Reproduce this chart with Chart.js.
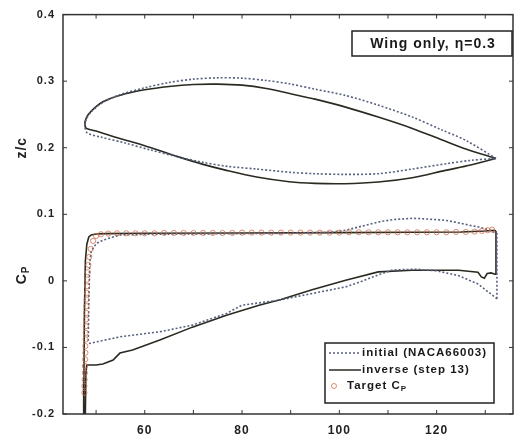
<!DOCTYPE html>
<html>
<head>
<meta charset="utf-8">
<script src="https://cdn.jsdelivr.net/npm/chart.js@4.4.0/dist/chart.umd.min.js"></script>
<style>
  body { margin: 0; background: #fff; }
  #wrap { width: 518px; height: 438px; }
</style>
</head>
<body>
<div id="wrap"><canvas id="myChart" width="518" height="438"></canvas></div>
<script>
// airfoil section shape, z/c (closed: TE -> upper -> LE -> lower -> TE)
var foilInitX = [132.2, 126, 121, 115, 108, 101.3, 95, 89.7, 85, 80, 75, 70, 65, 60, 55, 51.4, 49, 48, 47.7,
                 48.2, 51, 56, 61, 67, 72, 77, 83, 90, 95, 101, 108, 115, 122, 127, 132.2];
var foilInitY = [0.184, 0.211, 0.227, 0.246, 0.264, 0.2785, 0.288, 0.296, 0.301, 0.3045, 0.305, 0.303, 0.298, 0.290, 0.280, 0.268, 0.254, 0.243, 0.232,
                 0.222, 0.216, 0.207, 0.197, 0.186, 0.178, 0.172, 0.168, 0.163, 0.161, 0.160, 0.161, 0.168, 0.176, 0.181, 0.184];

var foilInvX = [132.2, 126, 121, 115, 108, 101.3, 95, 90, 85, 80, 75, 70, 65, 60, 55, 51.4, 49, 48, 47.7,
                48, 50, 53, 56.3, 60, 66.6, 72, 76.8, 83, 89.7, 95, 101, 108, 115, 121.8, 127, 132.2];
var foilInvY = [0.184, 0.198, 0.212, 0.229, 0.246, 0.261, 0.273, 0.281, 0.289, 0.294, 0.2955, 0.295, 0.292, 0.287, 0.279, 0.269, 0.255, 0.245, 0.236,
                0.229, 0.225, 0.218, 0.211, 0.203, 0.187, 0.175, 0.166, 0.156, 0.149, 0.1465, 0.146, 0.1485, 0.155, 0.166, 0.174, 0.184];

// pressure coefficient, Cp
var cpInitX = [132.4, 132.4, 131.5, 130.6, 128.6, 127.1, 124, 121.8, 118, 115, 111, 108, 104, 101.3, 98, 90, 80, 70, 60, 55, 53.5, 51.4, 50.1, 49, 48.7, 48.5, 48.4,
               48.7, 50.5, 55, 63.1, 69.8, 76.8, 80, 87.6, 94.4, 101.3, 104.5, 108, 111, 116, 120, 124.5, 128.6, 132.4];
var cpInitY = [-0.027, 0.071, 0.074, 0.077, 0.081, 0.083, 0.088, 0.091, 0.093, 0.094, 0.092, 0.0885, 0.081, 0.076, 0.073, 0.0715, 0.071, 0.0705, 0.070, 0.069, 0.066, 0.061, 0.0565, 0.045, 0.027, -0.03, -0.09,
               -0.094, -0.091, -0.084, -0.0765, -0.0665, -0.049, -0.0365, -0.029, -0.019, -0.009, -0.001, 0.009, 0.0165, 0.0175, 0.015, 0.008, -0.005, -0.027];

var cpInvX = [132.2, 131.8, 130, 125, 115, 100, 80, 60, 52, 50, 49, 48.5, 48.1, 47.8, 47.6, 47.5, 47.45,
              47.7, 47.9, 48.07, 50, 51.4, 53.5, 54.9, 57.5, 63.1, 69.8, 76.8, 83.5, 88, 94.4, 101.3, 108, 114.9, 124.5, 128.5, 129.2, 129.8, 130.4, 131.2, 132, 132.2];
var cpInvY = [0.075, 0.076, 0.075, 0.0735, 0.073, 0.0725, 0.072, 0.0715, 0.071, 0.0705, 0.069, 0.066, 0.055, 0.03, -0.05, -0.15, -0.25,
              -0.25, -0.14, -0.1265, -0.1265, -0.125, -0.119, -0.1085, -0.104, -0.089, -0.0695, -0.0515, -0.0365, -0.028, -0.0135, 0.001, 0.0135, 0.016, 0.016, 0.013, 0.006, 0.004, 0.011, 0.012, 0.010, 0.075];

var targetX = [47.6, 47.6, 47.65, 47.7, 47.7, 47.75, 47.8, 47.8, 47.85, 47.9, 47.9, 47.95, 48.0, 48.0, 48.05, 48.1, 48.15, 48.2, 48.3, 48.4, 48.6, 48.9, 49.4,
               50.0, 51.0, 52.5, 54.3, 56.2, 58.1, 60.0, 62.0, 64.0, 66.0, 68.0, 70.0, 72.0, 74.0, 76.0, 78.0, 80.0, 82.0, 84.0, 86.0, 88.0, 90.0,
               92.0, 94.0, 96.0, 98.0, 100.0, 102.0, 104.0, 106.0, 108.0, 110.0, 112.0, 114.0, 116.0, 118.0, 120.0, 122.0, 124.0, 126.0, 127.8, 129.3, 130.5, 131.4];
var targetY = [-0.168, -0.158, -0.148, -0.138, -0.128, -0.118, -0.108, -0.098, -0.088, -0.078, -0.068, -0.058, -0.048, -0.038, -0.028, -0.018, -0.008, 0.002, 0.013, 0.024, 0.036, 0.048, 0.060,
               0.0675, 0.070, 0.071, 0.0715, 0.0715, 0.0715, 0.0715, 0.0715, 0.072, 0.072, 0.072, 0.072, 0.072, 0.072, 0.072, 0.072, 0.0725, 0.0725, 0.0725, 0.0725, 0.0725, 0.0725,
               0.0725, 0.0725, 0.0725, 0.0725, 0.0725, 0.073, 0.073, 0.073, 0.073, 0.073, 0.073, 0.073, 0.073, 0.073, 0.073, 0.073, 0.0735, 0.0735, 0.074, 0.075, 0.076, 0.077];

var xTickLabels = [60, 80, 100, 120];
var legendLabels = ['initial (NACA66003)', 'inverse (step 13)', 'Target C'];
var boxTitle = 'Wing only, \u03b7=0.3';

var solidColor = '#2a2a22';
var dotColor = '#58627e';
var targetColor = 'rgba(205,105,70,0.75)';
var fontFam = '"Liberation Sans", Arial, sans-serif';

function pts(xs, ys) {
  var out = [];
  for (var i = 0; i < xs.length; i++) out.push({x: xs[i], y: ys[i]});
  return out;
}

// the printed figure uses a widely spaced bold face
var spacingPlugin = {
  id: 'spacing',
  beforeDraw: function(chart) { chart.ctx.letterSpacing = '1px'; }
};

// frame, inward ticks, axis titles, labelled box and legend
var decorPlugin = {
  id: 'decor',
  afterDraw: function(chart) {
    var ctx = chart.ctx;
    var a = chart.chartArea;
    var xs = chart.scales.x, ys = chart.scales.y;
    ctx.save();
    ctx.strokeStyle = '#333';
    ctx.lineWidth = 1.5;
    ctx.strokeRect(a.left, a.top, a.right - a.left, a.bottom - a.top);
    ctx.lineWidth = 1;
    xs.ticks.forEach(function(t) {
      var p = xs.getPixelForValue(t.value);
      ctx.beginPath();
      ctx.moveTo(p, a.bottom); ctx.lineTo(p, a.bottom - 4);
      ctx.moveTo(p, a.top); ctx.lineTo(p, a.top + 4);
      ctx.stroke();
    });
    ys.ticks.forEach(function(t) {
      var p = ys.getPixelForValue(t.value);
      ctx.beginPath();
      ctx.moveTo(a.left, p); ctx.lineTo(a.left + 4, p);
      ctx.moveTo(a.right, p); ctx.lineTo(a.right - 4, p);
      ctx.stroke();
    });

    ctx.letterSpacing = '1px';
    // y axis titles
    ctx.fillStyle = '#222';
    ctx.font = 'bold 14px ' + fontFam;
    ctx.textAlign = 'center';
    ctx.textBaseline = 'middle';
    ctx.save();
    ctx.translate(22, ys.getPixelForValue(0.2));
    ctx.rotate(-Math.PI / 2);
    ctx.fillText('z/c', 0, 0);
    ctx.restore();
    ctx.save();
    ctx.translate(22, ys.getPixelForValue(0.01));
    ctx.rotate(-Math.PI / 2);
    ctx.textAlign = 'left';
    ctx.fillText('C', -10, 0);
    ctx.font = 'bold 10px ' + fontFam;
    ctx.fillText('P', 1, 4);
    ctx.restore();

    // title box
    ctx.font = 'bold 14px ' + fontFam;
    ctx.fillStyle = '#fff';
    ctx.fillRect(352, 31, 160, 25);
    ctx.strokeStyle = '#222';
    ctx.lineWidth = 1.5;
    ctx.strokeRect(352, 31, 160, 25);
    ctx.fillStyle = '#1a1a1a';
    ctx.textAlign = 'center';
    ctx.fillText(boxTitle, 433, 44);

    // legend
    var lx = 325, ly = 343, lw = 169, lh = 60;
    ctx.fillStyle = '#fff';
    ctx.fillRect(lx, ly, lw, lh);
    ctx.strokeRect(lx, ly, lw, lh);
    ctx.font = 'bold 11.5px ' + fontFam;
    ctx.textAlign = 'left';
    ctx.fillStyle = '#1a1a1a';
    var rows = [353, 370, 386];
    ctx.lineWidth = 1.5;
    ctx.strokeStyle = dotColor;
    ctx.setLineDash([2, 2]);
    ctx.beginPath(); ctx.moveTo(329, rows[0]); ctx.lineTo(361, rows[0]); ctx.stroke();
    ctx.setLineDash([]);
    ctx.strokeStyle = solidColor;
    ctx.beginPath(); ctx.moveTo(329, rows[1]); ctx.lineTo(361, rows[1]); ctx.stroke();
    ctx.strokeStyle = targetColor;
    ctx.lineWidth = 1;
    ctx.beginPath(); ctx.arc(334, rows[2], 2.5, 0, Math.PI * 2); ctx.stroke();
    ctx.fillText(legendLabels[0], 362, rows[0]);
    ctx.fillText(legendLabels[1], 362, rows[1]);
    ctx.fillText(legendLabels[2], 347, rows[2]);
    var w = ctx.measureText(legendLabels[2]).width;
    ctx.font = 'bold 8px ' + fontFam;
    ctx.fillText('P', 347 + w, rows[2] + 3);
    ctx.restore();
  }
};

var canvas = document.getElementById('myChart');
var chart = new Chart(canvas, {
  type: 'scatter',
  data: {
    datasets: [
      {
        label: 'Target Cp',
        data: pts(targetX, targetY),
        showLine: false,
        pointStyle: 'circle',
        pointRadius: 2.6,
        borderWidth: 1,
        borderColor: targetColor,
        backgroundColor: 'rgba(0,0,0,0)'
      },
      {
        label: 'initial foil',
        data: pts(foilInitX, foilInitY),
        showLine: true, pointRadius: 0, borderWidth: 1.6,
        borderColor: dotColor, borderDash: [2, 2], tension: 0.3
      },
      {
        label: 'inverse foil',
        data: pts(foilInvX, foilInvY),
        showLine: true, pointRadius: 0, borderWidth: 1.6,
        borderColor: solidColor, tension: 0.3
      },
      {
        label: 'initial Cp',
        data: pts(cpInitX, cpInitY),
        showLine: true, pointRadius: 0, borderWidth: 1.6,
        borderColor: dotColor, borderDash: [2, 2], tension: 0
      },
      {
        label: 'inverse Cp',
        data: pts(cpInvX, cpInvY),
        showLine: true, pointRadius: 0, borderWidth: 1.6,
        borderColor: solidColor, tension: 0
      }
    ]
  },
  options: {
    responsive: false,
    animation: false,
    layout: { padding: { top: 14, right: 3, left: 0, bottom: 0 } },
    plugins: { legend: { display: false }, tooltip: { enabled: false } },
    scales: {
      x: {
        type: 'linear', min: 43.2, max: 135.7,
        grid: { display: false, drawTicks: false },
        border: { display: false },
        afterBuildTicks: function(s) {
          s.ticks = [50, 60, 70, 80, 90, 100, 110, 120, 130].map(function(v) { return {value: v}; });
        },
        afterFit: function(s) { s.height = 24; },
        ticks: {
          autoSkip: false, maxRotation: 0, padding: 9, color: '#222',
          font: { family: fontFam, size: 12, weight: 'bold' },
          callback: function(v) { return xTickLabels.indexOf(v) >= 0 ? String(v) : ''; }
        }
      },
      y: {
        type: 'linear', min: -0.2, max: 0.4,
        grid: { display: false, drawTicks: false },
        border: { display: false },
        afterBuildTicks: function(s) {
          s.ticks = [-0.2, -0.1, 0, 0.1, 0.2, 0.3, 0.4].map(function(v) { return {value: v}; });
        },
        afterFit: function(s) { s.width = 63; },
        ticks: {
          padding: 8, color: '#222',
          font: { family: fontFam, size: 11, weight: 'bold' },
          callback: function(v) { return v === 0 ? '0' : v.toFixed(1); }
        }
      }
    }
  },
  plugins: [spacingPlugin, decorPlugin]
});
</script>
</body>
</html>
